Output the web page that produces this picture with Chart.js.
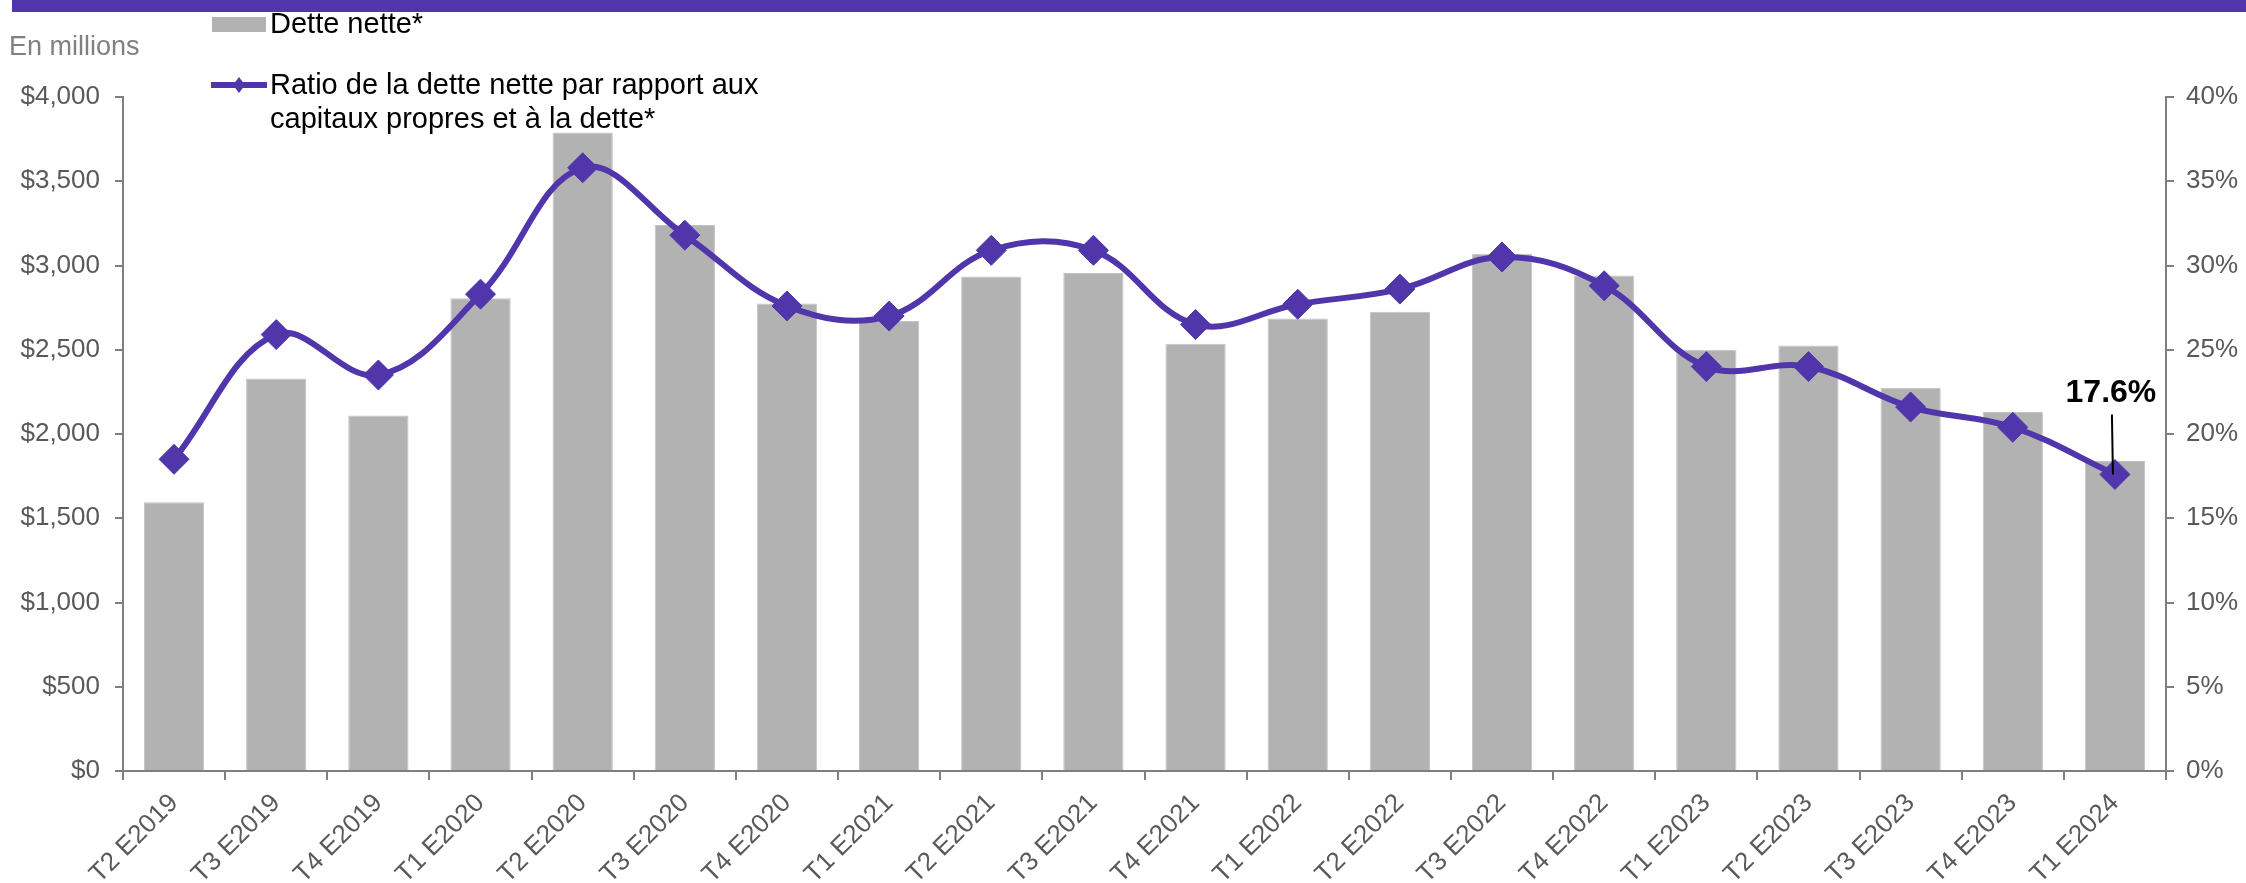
<!DOCTYPE html>
<html>
<head>
<meta charset="utf-8">
<script src="https://cdn.jsdelivr.net/npm/chart.js@4.4.1/dist/chart.umd.min.js"></script>
<style>
  html, body { margin: 0; padding: 0; background: #fff; }
  canvas { display: block; }
</style>
</head>
<body>
<canvas id="myChart" width="2246" height="883" style="width:2246px;height:883px"></canvas>
<script>
// Données
const trimestres = [
  "T2 E2019", "T3 E2019", "T4 E2019", "T1 E2020", "T2 E2020", "T3 E2020", "T4 E2020",
  "T1 E2021", "T2 E2021", "T3 E2021", "T4 E2021", "T1 E2022", "T2 E2022", "T3 E2022",
  "T4 E2022", "T1 E2023", "T2 E2023", "T3 E2023", "T4 E2023", "T1 E2024"
];
const detteNette = [1595, 2330, 2110, 2805, 3790, 3240, 2775, 2670, 2935, 2955,
                    2535, 2685, 2725, 3070, 2940, 2500, 2525, 2275, 2130, 1840];
const ratioDette = [18.5, 25.9, 23.5, 28.3, 35.8, 31.8, 27.6, 27.0, 30.9, 30.9,
                    26.5, 27.7, 28.6, 30.5, 28.8, 24.0, 24.0, 21.6, 20.4, 17.6];
const libellesLegende = ["Dette nette*", "Ratio de la dette nette par rapport aux", "capitaux propres et à la dette*"];
const etiquetteDernier = "17.6%";

const violet = '#5036aa';
const gris = '#b2b2b2';
const police = "'Liberation Sans', Arial, sans-serif";

// légende, bandeau et annotation dessinés à la main
const decor = {
  id: 'decor',
  beforeDraw(chart) {
    const ctx = chart.ctx;
    ctx.save();
    ctx.fillStyle = violet;
    ctx.fillRect(12, 0, chart.width - 12, 12);
    ctx.fillStyle = '#808080';
    ctx.font = '27px ' + police;
    ctx.textBaseline = 'middle';
    ctx.fillText('En millions', 9, 48);
    ctx.restore();
  },
  afterDraw(chart) {
    const ctx = chart.ctx;
    ctx.save();
    // légende
    ctx.fillStyle = gris;
    ctx.fillRect(212, 17, 54, 15);
    ctx.fillStyle = '#000';
    ctx.font = '29px ' + police;
    ctx.textBaseline = 'middle';
    ctx.fillText(libellesLegende[0], 270, 25);
    ctx.strokeStyle = violet;
    ctx.lineWidth = 6;
    ctx.beginPath();
    ctx.moveTo(211, 85);
    ctx.lineTo(267, 85);
    ctx.stroke();
    ctx.fillStyle = violet;
    ctx.beginPath();
    ctx.moveTo(239, 77); ctx.lineTo(245, 85); ctx.lineTo(239, 93); ctx.lineTo(233, 85);
    ctx.closePath();
    ctx.fill();
    ctx.fillStyle = '#000';
    ctx.fillText(libellesLegende[1], 270, 86);
    ctx.fillText(libellesLegende[2], 270, 120);

    // annotation du dernier point
    const meta = chart.getDatasetMeta(1);
    const pt = meta.data[meta.data.length - 1];
    ctx.strokeStyle = '#000';
    ctx.lineWidth = 2;
    ctx.beginPath();
    ctx.moveTo(pt.x - 3, pt.y - 60);
    ctx.lineTo(pt.x - 2, pt.y);
    ctx.stroke();
    ctx.font = 'bold 32px ' + police;
    ctx.textAlign = 'center';
    ctx.textBaseline = 'alphabetic';
    ctx.fillText(etiquetteDernier, pt.x - 4, pt.y - 72);
    ctx.restore();
  }
};

const ctx = document.getElementById('myChart').getContext('2d');
const myChart = new Chart(ctx, {
  type: 'bar',
  data: {
    labels: trimestres,
    datasets: [{
      type: 'bar',
      label: libellesLegende[0],
      data: detteNette,
      yAxisID: 'y',
      backgroundColor: gris,
      borderColor: '#c4c4c4',
      borderWidth: 1,
      categoryPercentage: 1,
      barPercentage: 0.59,
      order: 2
    }, {
      type: 'line',
      label: libellesLegende[1] + ' ' + libellesLegende[2],
      data: ratioDette,
      yAxisID: 'y1',
      borderColor: violet,
      borderWidth: 6,
      backgroundColor: violet,
      pointStyle: 'rectRot',
      pointRadius: 15,
      pointHoverRadius: 15,
      pointBorderWidth: 1,
      tension: 0.38,
      order: 1
    }]
  },
  options: {
    responsive: false,
    animation: false,
    layout: { padding: { top: 97 } },
    plugins: {
      legend: { display: false },
      tooltip: { enabled: false }
    },
    scales: {
      x: {
        grid: { drawOnChartArea: false, tickLength: 9, color: '#7f7f7f', lineWidth: 2 },
        border: { color: '#7f7f7f', width: 2 },
        ticks: {
          color: '#595959',
          font: { family: police, size: 26 },
          minRotation: 45, maxRotation: 45,
          autoSkip: false,
          padding: 8
        },
        afterFit(scale) { scale.height = 112; }
      },
      y: {
        position: 'left',
        min: 0, max: 4000,
        grid: { drawOnChartArea: false, tickLength: 8, color: '#7f7f7f', lineWidth: 2 },
        border: { color: '#7f7f7f', width: 2 },
        ticks: {
          stepSize: 500,
          color: '#595959',
          font: { family: police, size: 26 },
          padding: 15,
          callback: v => '$' + v.toLocaleString('en-US')
        },
        afterFit(scale) { scale.width = 123; }
      },
      y1: {
        position: 'right',
        min: 0, max: 40,
        grid: { drawOnChartArea: false, tickLength: 8, color: '#7f7f7f', lineWidth: 2 },
        border: { color: '#7f7f7f', width: 2 },
        ticks: {
          stepSize: 5,
          color: '#595959',
          font: { family: police, size: 26 },
          padding: 12,
          callback: v => v + '%'
        },
        afterFit(scale) { scale.width = 80; }
      }
    }
  },
  plugins: [decor]
});
</script>
</body>
</html>
